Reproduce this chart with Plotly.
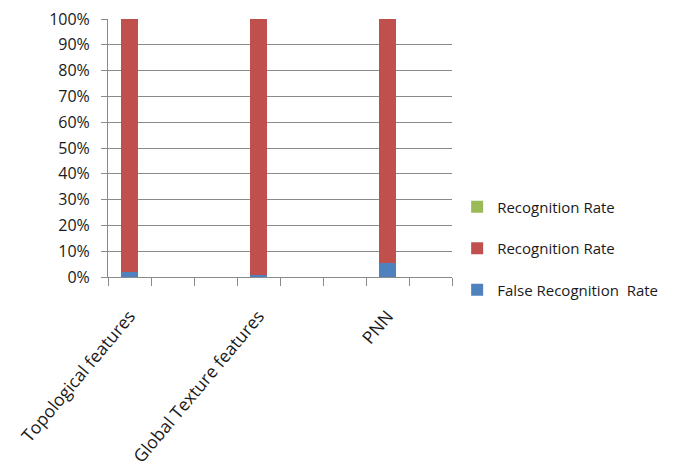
import plotly.graph_objects as go

categories = ["Topological features", "Global Texture features", "PNN"]
cat_pos = [0, 3, 6]
slot_edges = [-0.5, 0.5, 1.5, 2.5, 3.5, 4.5, 5.5, 6.5, 7.5]
false_rate = [1.9, 0.8, 5.6]
recog_rate = [98.1, 99.2, 94.4]
recog_rate_green = [0, 0, 0]
y_ticks = [0, 10, 20, 30, 40, 50, 60, 70, 80, 90, 100]
y_ticktext = [f"{v}%" for v in y_ticks]

FONT = "Open Sans"
GRID = "#8a8a8a"

fig = go.Figure()
fig.add_trace(go.Bar(x=cat_pos, y=false_rate, name="False Recognition  Rate",
                     marker=dict(color="#4f81bd", line=dict(width=0)), width=0.4,
                     legendgroup="a", legendrank=3))
fig.add_trace(go.Bar(x=cat_pos, y=recog_rate, name="Recognition Rate",
                     marker=dict(color="#c0504d", line=dict(width=0)), width=0.4,
                     legendgroup="b", legendrank=2))
fig.add_trace(go.Bar(x=cat_pos, y=recog_rate_green, name="Recognition Rate",
                     marker=dict(color="#9bbb59", line=dict(width=0)), width=0.4,
                     legendgroup="c", legendrank=1))

fig.update_layout(
    barmode="stack",
    width=685, height=475,
    margin=dict(l=108, r=233, t=19, b=198, autoexpand=False),
    paper_bgcolor="white", plot_bgcolor="white",
    font=dict(family=FONT, size=15, color="#1a1a1a"),
    showlegend=True,
    legend=dict(x=1.015, xanchor="left", y=0.11, yanchor="middle",
                traceorder="grouped", tracegroupgap=19,
                font=dict(family=FONT, size=15, color="#1a1a1a"),
                itemwidth=30, bgcolor="rgba(0,0,0,0)"),
    xaxis=dict(range=[-0.5, 7.5], tickmode="array", tickvals=cat_pos,
               ticktext=categories, tickangle=-50, ticks="",
               showgrid=False, zeroline=False, showline=True,
               linecolor=GRID, linewidth=1, automargin=False,
               ticklabelstandoff=21,
               tickfont=dict(family=FONT, size=17.5, color="#1a1a1a"),
               minor=dict(tickmode="array", tickvals=slot_edges, ticks="outside",
                          ticklen=8, tickcolor=GRID, tickwidth=1, showgrid=False),
               fixedrange=True),
    yaxis=dict(range=[0, 100], tickmode="array", tickvals=y_ticks,
               ticktext=y_ticktext, ticks="outside", ticklen=6, tickcolor=GRID,
               showgrid=True, gridcolor=GRID, gridwidth=1, zeroline=False,
               showline=True, linecolor=GRID, linewidth=1, automargin=False,
               ticklabelstandoff=8,
               tickfont=dict(family=FONT, size=16, color="#1a1a1a"),
               fixedrange=True),
)

fig.write_html("out.html")
